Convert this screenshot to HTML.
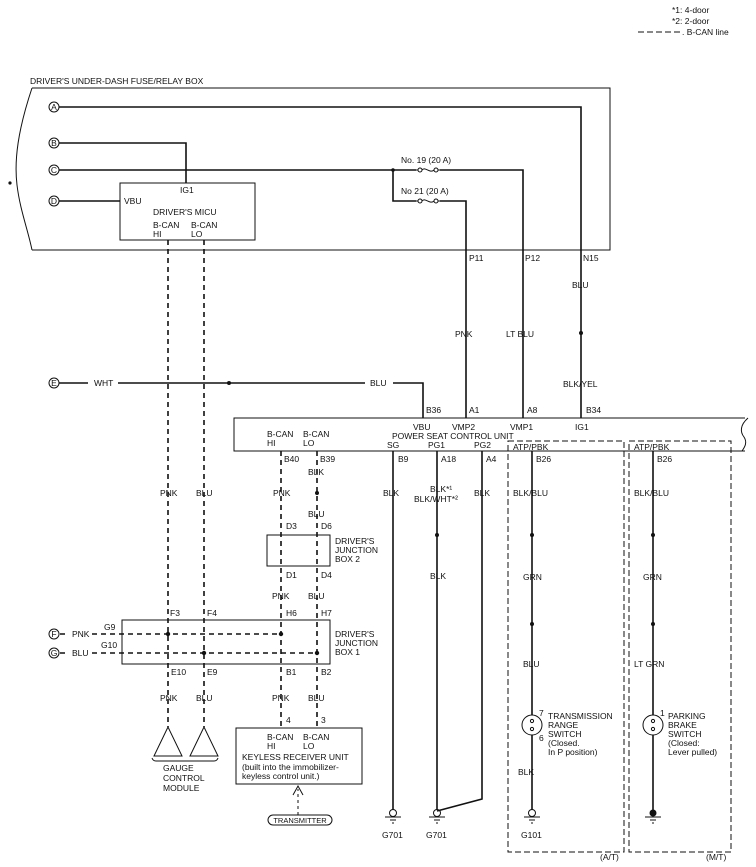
<!DOCTYPE html>
<html><head><meta charset="utf-8"><style>
html,body{margin:0;padding:0;background:#fff;}
svg{display:block;}
text{font-family:"Liberation Sans",Arial,sans-serif;font-size:8.5px;fill:#111;}
.s{stroke:#111;stroke-width:1.6;fill:none;}
.t{stroke:#111;stroke-width:1;fill:none;}
.d{stroke:#111;stroke-width:1.6;fill:none;stroke-dasharray:5,4;}
.dd{stroke:#111;stroke-width:1;fill:none;stroke-dasharray:6,3;}
</style></head><body>
<svg width="756" height="867" viewBox="0 0 756 867" xmlns="http://www.w3.org/2000/svg">
<!-- legend -->
<text x="672" y="13">*1: 4-door</text>
<text x="672" y="24">*2: 2-door</text>
<line x1="638" y1="32" x2="680" y2="32" class="dd"/>
<text x="682" y="35">. B-CAN line</text>

<!-- fuse box -->
<text x="30" y="84">DRIVER'S UNDER-DASH FUSE/RELAY BOX</text>
<path class="t" d="M32,88 L610,88 L610,250 L32,250"/>
<path class="t" d="M32,88 C18,130 14,160 17,185 C20,210 28,230 32,250"/>
<circle cx="10" cy="183" r="1.6" fill="#111"/>

<g class="t">
<circle cx="54" cy="107" r="5"/><circle cx="54" cy="143" r="5"/><circle cx="54" cy="170" r="5"/><circle cx="54" cy="201" r="5"/><circle cx="54" cy="383" r="5"/><circle cx="54" cy="634" r="5"/><circle cx="54" cy="653" r="5"/>
</g>
<g style="font-size:7px" text-anchor="middle">
<text x="54" y="110">A</text><text x="54" y="146">B</text><text x="54" y="173">C</text><text x="54" y="204">D</text><text x="54" y="386">E</text><text x="54" y="637">F</text><text x="54" y="656">G</text>
</g>

<!-- A line -->
<path class="s" d="M59,107 L581,107 L581,418"/>
<!-- B line -->
<path class="s" d="M59,143 L186,143 L186,183"/>
<!-- C line -->
<path class="s" d="M59,170 L416,170"/>
<path class="s" d="M440,170 L523,170 L523,418"/>
<path class="s" d="M393,170 L393,201 L416,201"/>
<path class="s" d="M440,201 L466,201 L466,418"/>
<circle cx="393" cy="170" r="1.8" fill="#111"/>
<path class="t" d="M416,170 h2 m4,0 c3,-4 8,4 12,0 m4,0 h2"/>
<circle cx="420" cy="170" r="2" class="t"/><circle cx="436" cy="170" r="2" class="t"/>
<path class="t" d="M416,201 h2 m4,0 c3,-4 8,4 12,0 m4,0 h2"/>
<circle cx="420" cy="201" r="2" class="t"/><circle cx="436" cy="201" r="2" class="t"/>
<text x="401" y="163">No. 19 (20 A)</text>
<text x="401" y="194">No 21 (20 A)</text>
<!-- D line + MICU -->
<path class="s" d="M59,201 L120,201"/>
<rect x="120" y="183" width="135" height="57" class="t"/>
<text x="180" y="193">IG1</text>
<text x="124" y="204">VBU</text>
<text x="153" y="215">DRIVER'S MICU</text>
<text x="153" y="228">B-CAN</text><text x="153" y="237">HI</text>
<text x="191" y="228">B-CAN</text><text x="191" y="237">LO</text>

<text x="469" y="261">P11</text><text x="525" y="261">P12</text><text x="583" y="261">N15</text>
<text x="572" y="288">BLU</text>
<text x="455" y="337">PNK</text>
<text x="506" y="337">LT BLU</text>
<circle cx="581" cy="333" r="2" fill="#111"/>
<text x="563" y="387">BLK/YEL</text>

<!-- E -->
<path class="s" d="M59,383 L88,383"/>
<text x="94" y="386">WHT</text>
<path class="s" d="M118,383 L365,383"/>
<circle cx="229" cy="383" r="2" fill="#111"/>
<text x="370" y="386">BLU</text>
<path class="s" d="M393,383 L423,383 L423,418"/>
<text x="426" y="413">B36</text><text x="469" y="413">A1</text><text x="527" y="413">A8</text><text x="586" y="413">B34</text>

<!-- PSCU -->
<path class="t" d="M745,418 L234,418 L234,451 L745,451"/>
<path class="t" d="M748,418 C740,425 740,432 744,437 C748,443 744,448 742,451"/>
<text x="413" y="430">VBU</text><text x="452" y="430">VMP2</text><text x="510" y="430">VMP1</text><text x="575" y="430">IG1</text>
<text x="392" y="439">POWER SEAT CONTROL UNIT</text>
<text x="267" y="437">B-CAN</text><text x="267" y="446">HI</text>
<text x="303" y="437">B-CAN</text><text x="303" y="446">LO</text>
<text x="387" y="448">SG</text><text x="428" y="448">PG1</text><text x="474" y="448">PG2</text>

<!-- ATP boxes -->
<rect x="508" y="441" width="116" height="411" class="dd"/>
<rect x="629" y="441" width="102" height="411" class="dd"/>
<text x="513" y="450">ATP/PBK</text><text x="634" y="450">ATP/PBK</text>
<text x="536" y="462">B26</text><text x="657" y="462">B26</text>
<text x="600" y="860">(A/T)</text><text x="706" y="860">(M/T)</text>

<!-- CAN dashed -->
<path class="d" d="M168,240 V727 M204,240 V727"/>
<path class="d" d="M281,451 V728 M317,451 V728"/>
<text x="160" y="496">PNK</text><text x="196" y="496">BLU</text>
<text x="284" y="462">B40</text><text x="320" y="462">B39</text>
<text x="308" y="475">BLK</text>
<circle cx="317" cy="493" r="2" fill="#111"/>
<text x="273" y="496">PNK</text>
<text x="308" y="517">BLU</text>
<text x="286" y="529">D3</text><text x="321" y="529">D6</text>
<rect x="267" y="535" width="63" height="31" class="t"/>
<text x="335" y="544">DRIVER'S</text><text x="335" y="553">JUNCTION</text><text x="335" y="562">BOX 2</text>
<text x="286" y="578">D1</text><text x="321" y="578">D4</text>
<text x="272" y="599">PNK</text><text x="308" y="599">BLU</text>
<text x="286" y="616">H6</text><text x="321" y="616">H7</text>
<text x="170" y="616">F3</text><text x="207" y="616">F4</text>

<!-- JB1 -->
<rect x="122" y="620" width="208" height="44" class="t"/>
<text x="335" y="637">DRIVER'S</text><text x="335" y="646">JUNCTION</text><text x="335" y="655">BOX 1</text>
<path class="d" d="M60,634 L68,634 M92,634 L281,634"/>
<path class="d" d="M60,653 L68,653 M92,653 L317,653"/>
<text x="72" y="637">PNK</text><text x="72" y="656">BLU</text>
<text x="104" y="630">G9</text><text x="101" y="648">G10</text>
<circle cx="168" cy="634" r="2.2" fill="#111"/><circle cx="281" cy="634" r="2.2" fill="#111"/>
<circle cx="204" cy="653" r="2.2" fill="#111"/><circle cx="317" cy="653" r="2.2" fill="#111"/>
<text x="171" y="675">E10</text><text x="207" y="675">E9</text><text x="286" y="675">B1</text><text x="321" y="675">B2</text>
<text x="160" y="701">PNK</text><text x="196" y="701">BLU</text><text x="272" y="701">PNK</text><text x="308" y="701">BLU</text>

<!-- triangles -->
<path class="t" d="M168,727 L154,756 L182,756 Z M204,727 L190,756 L218,756 Z"/>
<path class="t" d="M152,758 Q153,761 156,761 L214,761 Q217,761 218,758"/>
<text x="163" y="771">GAUGE</text><text x="163" y="781">CONTROL</text><text x="163" y="791">MODULE</text>

<!-- keyless -->
<text x="286" y="723">4</text><text x="321" y="723">3</text>
<rect x="236" y="728" width="126" height="56" class="t"/>
<text x="267" y="740">B-CAN</text><text x="267" y="749">HI</text>
<text x="303" y="740">B-CAN</text><text x="303" y="749">LO</text>
<text x="242" y="760">KEYLESS RECEIVER UNIT</text>
<text x="242" y="770">(built into the immobilizer-</text>
<text x="242" y="779">keyless control unit.)</text>
<path class="t" d="M298,815 L298,789" stroke-dasharray="3,3"/>
<path class="t" d="M293,795 L298,786 L303,795"/>
<rect x="268" y="815" width="64" height="10" rx="5" class="t"/>
<text x="300" y="823" text-anchor="middle" style="font-size:7.5px">TRANSMITTER</text>

<!-- ground wires -->
<path class="s" d="M393,451 V810"/>
<path class="s" d="M437,451 V810"/>
<path class="s" d="M482,451 V799 L437,811"/>
<text x="398" y="462">B9</text><text x="441" y="462">A18</text><text x="486" y="462">A4</text>
<text x="383" y="496">BLK</text>
<text x="430" y="492">BLK*¹</text><text x="414" y="502">BLK/WHT*²</text>
<text x="474" y="496">BLK</text>
<circle cx="437" cy="535" r="2" fill="#111"/>
<text x="430" y="579">BLK</text>
<g class="t">
<circle cx="393" cy="813" r="3.5"/><path d="M385,817 H401 M390,820 H396 M392,823 H394"/>
<circle cx="437" cy="813" r="3.5"/><path d="M429,817 H445 M434,820 H440 M436,823 H438"/>
<circle cx="532" cy="813" r="3.5"/><path d="M524,817 H540 M529,820 H535 M531,823 H533"/>
<path d="M645,817 H661 M650,820 H656 M652,823 H654"/>
</g>
<circle cx="653" cy="813" r="3.5" fill="#111"/>
<text x="382" y="838">G701</text><text x="426" y="838">G701</text><text x="521" y="838">G101</text>

<!-- A/T -->
<path class="s" d="M532,451 V715 M532,735 V810"/>
<text x="513" y="496">BLK/BLU</text>
<circle cx="532" cy="535" r="2" fill="#111"/>
<text x="523" y="580">GRN</text>
<circle cx="532" cy="624" r="2" fill="#111"/>
<text x="523" y="667">BLU</text>
<circle cx="532" cy="725" r="10" class="t"/>
<circle cx="532" cy="721" r="1.6" class="t"/><circle cx="532" cy="729" r="1.6" class="t"/>
<text x="539" y="716">7</text><text x="539" y="741">6</text>
<text x="548" y="719">TRANSMISSION</text><text x="548" y="728">RANGE</text><text x="548" y="737">SWITCH</text><text x="548" y="746">(Closed.</text><text x="548" y="755">In P position)</text>
<text x="518" y="775">BLK</text>

<!-- M/T -->
<path class="s" d="M653,451 V715 M653,735 V810"/>
<text x="634" y="496">BLK/BLU</text>
<circle cx="653" cy="535" r="2" fill="#111"/>
<text x="643" y="580">GRN</text>
<circle cx="653" cy="624" r="2" fill="#111"/>
<text x="634" y="667">LT GRN</text>
<circle cx="653" cy="725" r="10" class="t"/>
<circle cx="653" cy="721" r="1.6" class="t"/><circle cx="653" cy="729" r="1.6" class="t"/>
<text x="660" y="716">1</text>
<text x="668" y="719">PARKING</text><text x="668" y="728">BRAKE</text><text x="668" y="737">SWITCH</text><text x="668" y="746">(Closed:</text><text x="668" y="755">Lever pulled)</text>
</svg>
</body></html>
